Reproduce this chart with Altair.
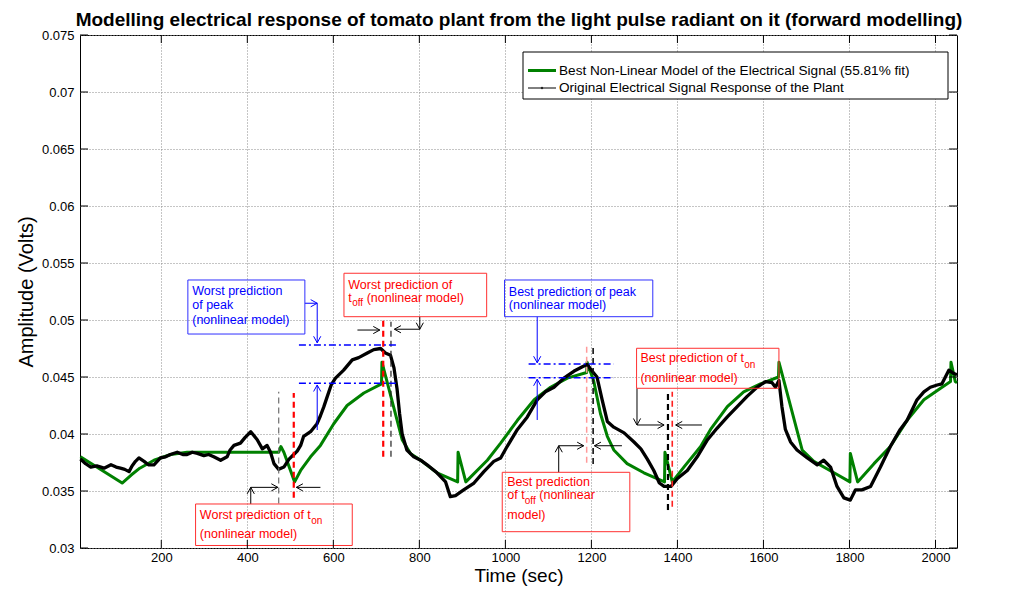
import altair as alt
import pandas as pd

# ---------------- data ----------------
sig_t = [12, 24, 36, 50, 67, 83, 95, 105, 115, 125, 132, 140, 148, 160, 170, 183, 198, 210, 221, 237,
         250, 260, 272, 284, 299, 310, 322, 338, 353, 360, 369, 384, 395, 408, 423, 435, 446, 454, 462, 473,
         485, 497, 508, 516, 524, 531, 547, 562, 570, 578, 586, 595, 605, 624, 644, 659, 679, 694, 710, 721,
         733, 741, 748, 754, 760, 771, 787, 803, 818, 841, 861, 872, 884, 903, 927, 950, 973, 989, 1004, 1028,
         1051, 1074, 1093, 1113, 1136, 1159, 1179, 1190, 1202, 1213, 1225, 1237, 1252, 1276, 1299, 1315, 1330,
         1345, 1358, 1369, 1385, 1400, 1423, 1446, 1470, 1492, 1516, 1539, 1562, 1585, 1605, 1620, 1628, 1636,
         1643, 1651, 1663, 1678, 1702, 1725, 1740, 1756, 1771, 1787, 1802, 1814, 1829, 1849, 1872, 1895, 1918,
         1934, 1957, 1973, 1988, 2004, 2015, 2031, 2043, 2050]
sig_v = [0.0378, 0.0374, 0.0371, 0.0372, 0.0370, 0.0373, 0.0371, 0.0370, 0.0369, 0.0367, 0.0372, 0.0376,
         0.0379, 0.0376, 0.0373, 0.0373, 0.0379, 0.0380, 0.0382, 0.0384, 0.0382, 0.0382, 0.0384, 0.0383,
         0.0381, 0.0382, 0.0380, 0.0377, 0.0380, 0.0386, 0.0390, 0.0392, 0.0397, 0.0402, 0.0395, 0.0387,
         0.0390, 0.0384, 0.0374, 0.0369, 0.0371, 0.0378, 0.0382, 0.0385, 0.0390, 0.0398, 0.0402, 0.0409,
         0.0416, 0.0424, 0.0433, 0.0443, 0.0449, 0.0456, 0.0465, 0.0467, 0.0471, 0.0474, 0.0475, 0.0471,
         0.0469, 0.0458, 0.0440, 0.0418, 0.0400, 0.0386, 0.0380, 0.0377, 0.0373, 0.0366, 0.0358, 0.0345,
         0.0346, 0.0351, 0.0357, 0.0367, 0.0376, 0.0379, 0.0389, 0.0404, 0.0415, 0.0430, 0.0437, 0.0441,
         0.0449, 0.0455, 0.0459, 0.0461, 0.0455, 0.0450, 0.0430, 0.0411, 0.0406, 0.0401, 0.0393, 0.0387,
         0.0378, 0.0368, 0.0357, 0.0354, 0.0354, 0.0361, 0.0368, 0.0380, 0.0395, 0.0405, 0.0415, 0.0424,
         0.0433, 0.0441, 0.0446, 0.0445, 0.0441, 0.0447, 0.0424, 0.0404, 0.0393, 0.0386, 0.0379, 0.0373,
         0.0377, 0.0371, 0.0354, 0.0344, 0.0342, 0.0351, 0.0351, 0.0354, 0.0371, 0.0389, 0.0404, 0.0412,
         0.0430, 0.0437, 0.0441, 0.0443, 0.0444, 0.0456, 0.0453, 0.0452]

mod_t = [12, 109, 130, 150, 183, 222, 260, 473, 478, 485, 510, 524, 547, 570, 601, 632, 671, 712, 713,
         760, 779, 803, 841, 889, 890, 908, 958, 989, 1028, 1067, 1105, 1144, 1189, 1190, 1205, 1221, 1237,
         1252, 1283, 1322, 1370, 1371, 1388, 1415, 1454, 1477, 1516, 1554, 1593, 1635, 1636, 1690, 1717,
         1764, 1801, 1802, 1819, 1857, 1895, 1934, 1973, 2011, 2035, 2036, 2046, 2050]
mod_v = [0.0380, 0.0357, 0.0364, 0.0370, 0.0377, 0.0382, 0.0384, 0.0384, 0.0389, 0.0384, 0.0358, 0.0368,
         0.0380, 0.0390, 0.0409, 0.0425, 0.0436, 0.0444, 0.0463, 0.0395, 0.0383, 0.0377, 0.0366, 0.0358,
         0.0384, 0.0358, 0.0377, 0.0392, 0.0412, 0.0430, 0.0441, 0.0449, 0.0454, 0.0463, 0.0447, 0.0418,
         0.0398, 0.0386, 0.0374, 0.0366, 0.0358, 0.0384, 0.0358, 0.0371, 0.0389, 0.0404, 0.0424, 0.0437,
         0.0444, 0.0450, 0.0463, 0.0386, 0.0376, 0.0366, 0.0358, 0.0383, 0.0358, 0.0374, 0.0389, 0.0412,
         0.0430, 0.0440, 0.0446, 0.0463, 0.0446, 0.0445]

x_ticks = [200, 400, 600, 800, 1000, 1200, 1400, 1600, 1800, 2000]
y_ticks = [0.03, 0.035, 0.04, 0.045, 0.05, 0.055, 0.06, 0.065, 0.07, 0.075]

title_text = "Modelling electrical response of tomato plant from the light pulse radiant on it (forward modelling)"
legend_labels = ["Best Non-Linear Model of the Electrical Signal (55.81% fit)",
                 "Original Electrical Signal Response of the Plant"]

# annotation geometry (data coordinates)
vline_x = [473, 508, 716, 734, 1189, 1204, 1378, 1388]
vline_lo = [0.0339, 0.0344, 0.0380, 0.0380, 0.03748, 0.03737, 0.03333, 0.03362]
vline_hi = [0.0437, 0.0436, 0.0500, 0.04985, 0.04766, 0.04766, 0.04371, 0.04371]
vline_col = ["#6e6e6e", "#ff0000", "#ff0000", "#222222", "#ff9a9a", "#111111", "#000000", "#ff2020"]
vline_w = [1.2, 2.2, 2.2, 1.2, 1.5, 1.6, 2.2, 1.6]

dd_x1 = [520, 520, 1054, 1054]
dd_x2 = [750, 748, 1252, 1252]
dd_y = [0.04781, 0.04445, 0.04614, 0.04493]

blk_x1 = [408, 408, 570, 656, 801, 801, 1124, 1124, 1271, 1306, 1306, 1457]
blk_x2 = [408, 471, 514, 708, 801, 742, 1124, 1182, 1207, 1306, 1369, 1396]
blk_y1 = [0.03386, 0.03532, 0.03532, 0.04912, 0.05029, 0.04919, 0.03664, 0.03897, 0.03897, 0.04401, 0.04079, 0.04079]
blk_y2 = [0.03532, 0.03532, 0.03532, 0.04912, 0.04919, 0.04919, 0.03897, 0.03897, 0.03897, 0.04079, 0.04079, 0.04079]
blk_head = [270, 0, 180, 0, 90, 180, 270, 0, 180, 90, 0, 180]

blu_x1 = [534, 562.5, 562.5, 1074, 1074]
blu_x2 = [562.5, 562.5, 562.5, 1074, 1074]
blu_y1 = [0.05147, 0.05147, 0.04035, 0.05029, 0.04123]
blu_y2 = [0.05147, 0.04800, 0.04430, 0.04625, 0.04480]
blu_head = [0, 90, 270, 90, 270]

red_box_x1 = [279.7, 624.7, 992.7, 1305]
red_box_x2 = [644, 956.5, 1289.3, 1636]
red_box_y1 = [0.03022, 0.05029, 0.03143, 0.04401]
red_box_y2 = [0.03386, 0.05410, 0.03664, 0.04752]
blue_box_x1 = [261.8, 998]
blue_box_x2 = [533.8, 1342.7]
blue_box_y1 = [0.04877, 0.05029]
blue_box_y2 = [0.05351, 0.05351]

red_txt = ["Worst prediction of t", "(nonlinear model)", "Worst prediction of", "t", "(nonlinear model)",
           "Best prediction", "of t", "(nonlinear", "model)", "Best prediction of t", "(nonlinear model)"]
red_txt_x = [289.7, 289.7, 634.7, 634.7, 677.4, 1004.3, 1004.3, 1078.8, 1004.3, 1314, 1314]
red_txt_y = [0.03289, 0.03120, 0.05307, 0.05193, 0.05193, 0.03582, 0.03465, 0.03465, 0.03290, 0.04664, 0.04489]
sub_txt = ["on", "off", "off", "on"]
sub_x = [548.4, 643.7, 1045, 1555.3]
sub_y = [0.03236, 0.05150, 0.03416, 0.04605]
blue_txt = ["Worst prediction", "of peak", "(nonlinear model)", "Best prediction of peak", "(nonlinear model)"]
blue_txt_x = [272, 272, 272, 1008, 1008]
blue_txt_y = [0.05254, 0.05132, 0.05000, 0.05248, 0.05132]

# ---------------- chart ----------------
W, H = 877, 513
FONT = "Liberation Sans"
xs = alt.Scale(domain=[11, 2050], nice=False, zero=False)
ys = alt.Scale(domain=[0.03, 0.075], nice=False, zero=False)

sig = pd.DataFrame({"t": sig_t, "v": sig_v, "i": list(range(len(sig_t)))})
mod = pd.DataFrame({"t": mod_t, "v": mod_v, "i": list(range(len(mod_t)))})
one = pd.DataFrame({"a": [0]})

x_axis = alt.Axis(values=x_ticks, format="d", grid=True, gridColor="#8a8a8a", gridDash=[1, 2],
                  gridWidth=1, ticks=False, domain=False, labelFont=FONT, labelFontSize=13,
                  labelColor="black", labelPadding=3, title="Time (sec)", titleFont=FONT,
                  titleFontSize=19, titleFontWeight="normal", titleColor="black", titlePadding=2)
y_axis = alt.Axis(values=y_ticks, format="~g", grid=True, gridColor="#8a8a8a", gridDash=[1, 2],
                  gridWidth=1, ticks=False, domain=False, labelFont=FONT, labelFontSize=13,
                  labelColor="black", labelPadding=6, title="Amplitude (Volts)", titleFont=FONT,
                  titleFontSize=20, titleFontWeight="normal", titleColor="black", titlePadding=5)


def X(f):
    return alt.X(f, scale=xs, axis=x_axis)


def Y(f):
    return alt.Y(f, scale=ys, axis=y_axis)


model_line = alt.Chart(mod).mark_line(color="#008000", strokeWidth=3, strokeJoin="round").encode(
    x=X("t:Q"), y=Y("v:Q"), order="i:Q")
signal_line = alt.Chart(sig).mark_line(color="black", strokeWidth=3.3, strokeJoin="round").encode(
    x=X("t:Q"), y=Y("v:Q"), order="i:Q")

vl = pd.DataFrame({"x": vline_x, "lo": vline_lo, "hi": vline_hi, "c": vline_col, "w": vline_w})
vlines = alt.Chart(vl).mark_rule(strokeDash=[6, 4]).encode(
    x=X("x:Q"), y=Y("lo:Q"), y2="hi:Q",
    color=alt.Color("c:N", scale=None), strokeWidth=alt.StrokeWidth("w:Q", scale=None))

dd = pd.DataFrame({"x1": dd_x1, "x2": dd_x2, "y": dd_y})
ddlines = alt.Chart(dd).mark_rule(color="#0000ff", strokeWidth=1.5, strokeDash=[7, 3, 2, 3]).encode(
    x=X("x1:Q"), x2="x2:Q", y=Y("y:Q"))

ARROW = "M -1 -0.55 L 0 0 L -1 0.55"


def arrows(x1, x2, y1, y2, head, color):
    d = pd.DataFrame({"x1": x1, "x2": x2, "y1": y1, "y2": y2, "a": head})
    segs = alt.Chart(d).mark_rule(color=color, strokeWidth=1).encode(
        x=X("x1:Q"), x2="x2:Q", y=Y("y1:Q"), y2="y2:Q")
    heads = alt.Chart(d).mark_point(shape=ARROW, filled=False, color=color, strokeWidth=1,
                                    size=170, opacity=1).encode(
        x=X("x2:Q"), y=Y("y2:Q"), angle=alt.Angle("a:Q", scale=None))
    return [segs, heads]


def boxes(x1, x2, y1, y2, color):
    d = pd.DataFrame({"x1": x1, "x2": x2, "y1": y1, "y2": y2})
    return alt.Chart(d).mark_rect(fill="white", fillOpacity=0, stroke=color, strokeWidth=1).encode(
        x=X("x1:Q"), x2="x2:Q", y=Y("y1:Q"), y2="y2:Q")


def texts(s, x, y, color, size):
    d = pd.DataFrame({"s": s, "x": x, "y": y})
    return alt.Chart(d).mark_text(align="left", baseline="middle", font=FONT, fontSize=size,
                                  color=color).encode(x=X("x:Q"), y=Y("y:Q"), text="s:N")


tx = pd.DataFrame({"v": x_ticks})
ty = pd.DataFrame({"v": y_ticks})
tick_layers = [
    alt.Chart(tx).mark_rule(color="black").encode(x=X("v:Q"), y=alt.value(H), y2=alt.value(H - 8)),
    alt.Chart(tx).mark_rule(color="black").encode(x=X("v:Q"), y=alt.value(0), y2=alt.value(8)),
    alt.Chart(ty).mark_rule(color="black").encode(y=Y("v:Q"), x=alt.value(0), x2=alt.value(8)),
    alt.Chart(ty).mark_rule(color="black").encode(y=Y("v:Q"), x=alt.value(W), x2=alt.value(W - 8)),
]

# legend (pixel layout inside the plot area)
LX, LY = 443, 17
legend_layers = [
    alt.Chart(one).mark_rect(fill="white", stroke="black", strokeWidth=1).encode(
        x=alt.value(LX), x2=alt.value(LX + 425), y=alt.value(LY), y2=alt.value(LY + 47)),
    alt.Chart(one).mark_rule(color="#008000", strokeWidth=3).encode(
        x=alt.value(LX + 5), x2=alt.value(LX + 33), y=alt.value(LY + 18.5)),
    alt.Chart(one).mark_rule(color="black", strokeWidth=1).encode(
        x=alt.value(LX + 5), x2=alt.value(LX + 33), y=alt.value(LY + 36)),
    alt.Chart(one).mark_point(shape="circle", filled=True, color="black", size=6).encode(
        x=alt.value(LX + 19), y=alt.value(LY + 36)),
    alt.Chart(one).mark_text(align="left", baseline="middle", font=FONT, fontSize=13.6,
                             color="black").encode(
        x=alt.value(LX + 36), y=alt.value(LY + 18.5), text=alt.value(legend_labels[0])),
    alt.Chart(one).mark_text(align="left", baseline="middle", font=FONT, fontSize=13.6,
                             color="black").encode(
        x=alt.value(LX + 36), y=alt.value(LY + 36), text=alt.value(legend_labels[1])),
]

title = alt.Chart(one).mark_text(align="center", baseline="alphabetic", font=FONT, fontSize=19,
                                 fontWeight="bold", color="black").encode(
    x=alt.value(439), y=alt.value(-9), text=alt.value(title_text))

layers = [model_line, signal_line, vlines, ddlines]
layers += arrows(blk_x1, blk_x2, blk_y1, blk_y2, blk_head, "black")
layers += arrows(blu_x1, blu_x2, blu_y1, blu_y2, blu_head, "#0000ff")
layers += [boxes(red_box_x1, red_box_x2, red_box_y1, red_box_y2, "#ff3030"),
           boxes(blue_box_x1, blue_box_x2, blue_box_y1, blue_box_y2, "#3030ff"),
           texts(red_txt, red_txt_x, red_txt_y, "#ff0000", 12.5),
           texts(sub_txt, sub_x, sub_y, "#ff0000", 10),
           texts(blue_txt, blue_txt_x, blue_txt_y, "#0000ff", 12.5)]
layers += tick_layers + legend_layers + [title]

chart = alt.layer(*layers).properties(
    width=W, height=H, background="white",
    autosize=alt.AutoSizeParams(type="none"),
    padding={"left": 72, "top": 27, "right": 60, "bottom": 42},
).configure_view(stroke="black", strokeWidth=1)

chart.save("out.html", embed_options={"renderer": "svg", "actions": False})
